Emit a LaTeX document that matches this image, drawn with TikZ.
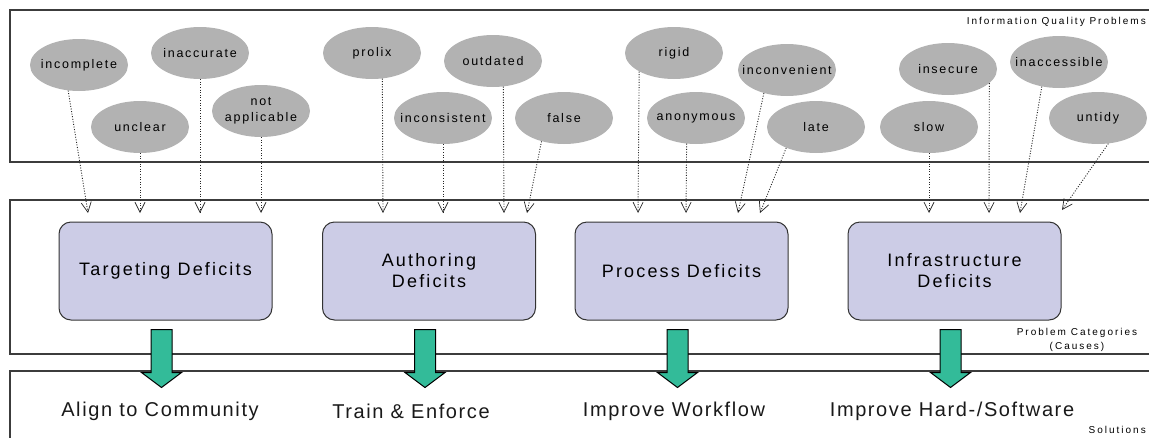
\documentclass[tikz,border=0pt]{standalone}
\usepackage{fontspec}
\setmainfont{Liberation Sans}
\newfontfamily\ovalfont[LetterSpace=14]{Liberation Sans}
\newfontfamily\boxfont[LetterSpace=12]{Liberation Sans}
\newfontfamily\solfont[LetterSpace=8]{Liberation Sans}
\newfontfamily\tagfont[LetterSpace=20]{Liberation Sans}
\usetikzlibrary{arrows.meta,calc,shapes.geometric}

\definecolor{ovalgray}{RGB}{178,178,178}
\definecolor{boxlilac}{RGB}{204,204,230}
\definecolor{solgreen}{RGB}{51,187,153}
\definecolor{rulegray}{RGB}{60,60,60}

\tikzset{
	panel/.style={draw=rulegray, line width=1.3pt},
	problem/.style={ellipse, fill=ovalgray, minimum width=98pt, minimum height=52pt, inner sep=0pt,
		label={[font=\ovalfont\fontsize{12.5}{16}\selectfont, align=center, inner sep=0pt]center:#1}},
	deficit/.style={draw=black!80, line width=1pt, fill=boxlilac, rounded corners=12pt,
		minimum width=213pt, minimum height=98pt, align=center, font=\boxfont\fontsize{18}{21}\selectfont},
	solution/.style={font=\solfont\fontsize{20}{24}\selectfont, text=black!90},
	tag/.style={font=\tagfont\fontsize{10}{14}\selectfont, align=center, inner sep=0pt},
	cause/.style={draw=black!85, line width=0.9pt, dash pattern=on 1pt off 1.6pt,
		-{Straight Barb[length=10pt,width=10pt,line width=0.7pt]}},
	remedy/.style={fill=solgreen, draw=black, line width=1pt}
}

\begin{document}
\begin{tikzpicture}[x=1pt, y=-1pt]
		%%%%% START %%%%%
		\useasboundingbox (0,0) rectangle (1149,437);
		
		% three bands
		\draw[panel] (10,10) rectangle (1165,162);
		\draw[panel] (10,200) rectangle (1165,354);
		\draw[panel] (10,371) rectangle (1165,460);
		
		\node[tag, anchor=east] (iqp) at (1146,22) {Information Quality Problems};
		\node[tag] (causes) at (1077,340) {Problem Categories\\(Causes)};
		\node[tag, anchor=north east] (solutions) at (1146,426) {Solutions};
		
		% quality problems
		\node[problem=incomplete] (incomplete) at (79,65) {};
		\node[problem=unclear] (unclear) at (140,127) {};
		\node[problem=inaccurate] (inaccurate) at (200,53) {};
		\node[problem={not\\applicable}] (notapp) at (261,111) {};
		\node[problem=prolix] (prolix) at (372,53) {};
		\node[problem=inconsistent] (inconsistent) at (443,118) {};
		\node[problem=outdated] (outdated) at (493,61) {};
		\node[problem=false] (false) at (564,118) {};
		\node[problem=rigid] (rigid) at (674,53) {};
		\node[problem=anonymous] (anonymous) at (696,118) {};
		\node[problem=inconvenient] (inconvenient) at (787,70) {};
		\node[problem=late] (late) at (816,127) {};
		\node[problem=insecure] (insecure) at (948,69) {};
		\node[problem=slow] (slow) at (929,127) {};
		\node[problem=inaccessible] (inaccessible) at (1059,62) {};
		\node[problem=untidy] (untidy) at (1098,118) {};
		
		% problem -> category
		\foreach \n/\a/\x/\y in {incomplete/247/88/213, unclear/south/140/213, inaccurate/south/200/213,
				notapp/south/261/213, prolix/292/383/213, inconsistent/south/443/213, outdated/292/504/213,
				false/226/527/213, rigid/208/638/213, anonymous/250/686/213, inconvenient/225/738/213,
				late/215/760/213, slow/south/929/213, insecure/341/989/213, inaccessible/235/1020/213,
				untidy/292/1062/210}{
			\coordinate (\n-in) at (\x,\y);
			\draw[cause] (\n.\a) -- (\n-in);
		}
		
		% categories
		\node[deficit] (targeting) at (165.5,271) {Targeting Deficits};
		\node[deficit] (authoring) at (429,271) {Authoring\\Deficits};
		\node[deficit] (process) at (681.5,271) {Process Deficits};
		\node[deficit] (infrastructure) at (954.5,271) {Infrastructure\\Deficits};
		
		% solutions
		\node[solution] (align) at (160,411) {Align to Community};
		\node[solution] (train) at (411,411) {Train \& Enforce};
		\node[solution] (workflow) at (674,411) {Improve Workflow};
		\node[solution] (hardsoft) at (952,411) {Improve Hard-/Software};
		
		\foreach \b in {targeting,authoring,process,infrastructure}
			\draw[remedy] ($(\b.south)+(-14.5,9)$) -- ++(21,0) -- ++(0,43) -- ++(9.5,0)
				-- ($(\b.south)+(-4,67)$) -- ($(\b.south)+(-24,52)$) -- ++(9.5,0) -- cycle;
		
		%%%%% END %%%%%
	\end{tikzpicture}
\end{document}
